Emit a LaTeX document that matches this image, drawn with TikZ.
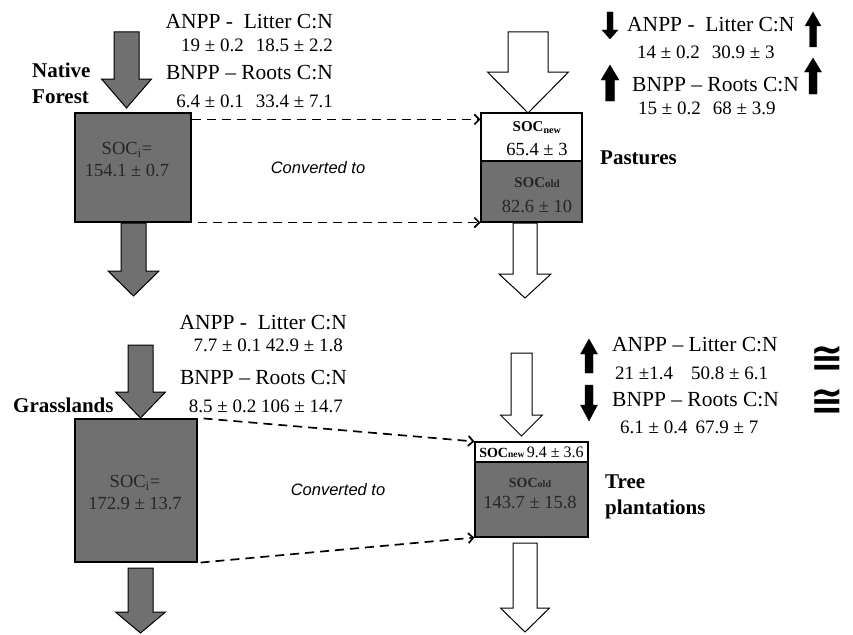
\documentclass[tikz,border=0pt]{standalone}
\usepackage{fontspec}
\setmainfont{Liberation Serif}
\setsansfont{Liberation Sans}
\newfontfamily\djv{DejaVu Sans}
\usetikzlibrary{arrows.meta,calc}
\definecolor{boxgray}{HTML}{707070}
\definecolor{txtgray}{HTML}{262626}
\newcommand{\barr}[7]{%
  \draw[#1] (#2-#4,#3) -- (#2+#4,#3) -- (#2+#4,#5) -- (#2+#6,#5) -- (#2,#7) -- (#2-#6,#5) -- (#2-#4,#5) -- cycle;}
\tikzset{
  gblock/.style={fill=boxgray,draw=black,line width=1pt,line join=miter},
  wblock/.style={fill=white,draw=black,line width=1pt,line join=miter},
  kblock/.style={fill=black,draw=black,line width=0.3pt},
  soilbox/.style={draw=black,line width=1.1pt,fill=boxgray,inner sep=0pt},
  newbox/.style={draw=black,line width=1.1pt,fill=white,inner sep=0pt},
  lbl/.style={font=\fontsize{21.5}{24}\selectfont,inner sep=0pt},
  num/.style={font=\fontsize{19}{22}\selectfont,inner sep=0pt},
  boxtxt/.style={font=\fontsize{18.5}{21}\selectfont,text=txtgray,inner sep=0pt},
  soclbl/.style={font=\fontsize{15}{18}\selectfont\bfseries,inner sep=0pt},
  site/.style={font=\fontsize{21}{26}\selectfont\bfseries,inner sep=0pt,align=left},
  conv/.style={font=\sffamily\itshape\fontsize{16.5}{19}\selectfont,inner sep=0pt},
  dashconn/.style={line width=1.7pt,dash pattern=on 9pt off 6pt,-{Straight Barb[length=5pt,width=10pt,line width=1.7pt]}},
  approx/.style={font=\djv\bfseries\fontsize{40}{40}\selectfont,inner sep=0pt}
}
\begin{document}
\begin{tikzpicture}[x=1pt,y=-1pt]
\useasboundingbox (0,0) rectangle (853,634);

% ---------- Native forest ----------
\node[soilbox,minimum width=116pt,minimum height=109pt] (nf) at (133,167.5) {};
\node[boxtxt] (nfs) at (127,150) {SOC\textsubscript{i}=};
\node[boxtxt] (nfv) at (127,170) {154.1 ± 0.7};
\barr{gblock}{126.5}{32}{12.5}{79}{25}{108}
\barr{gblock}{133.5}{223}{12.5}{271}{25.5}{296}
\node[site,anchor=west] (nfl) at (32,83) {Native\\Forest};
\node[lbl,anchor=east] (nfa) at (333,22) {ANPP -\enspace Litter C:N};
\node[num,anchor=east] (nfav) at (333,45) {19 ± 0.2\hspace{12pt}18.5 ± 2.2};
\node[lbl,anchor=east] (nfb) at (333,73) {BNPP – Roots C:N};
\node[num,anchor=east] (nfbv) at (333,101) {6.4 ± 0.1\hspace{12pt}33.4 ± 7.1};

% ---------- Pastures ----------
\node[newbox,minimum width=101pt,minimum height=48pt] (pnew) at (531.5,137) {};
\node[soilbox,minimum width=101pt,minimum height=61pt] (pold) at (531.5,191.5) {};
\node[soclbl] (pns) at (537,128) {SOC\textsubscript{\fontsize{10}{12}\selectfont new}};
\node[boxtxt,text=black] (pnv) at (537,150) {65.4 ± 3};
\node[soclbl,text=txtgray] (pos) at (537,183) {SOC{\fontsize{11}{12}\selectfont old}};
\node[boxtxt] (pov) at (537,206) {82.6 ± 10};
\barr{wblock}{528}{32}{20}{72}{40.5}{113}
\barr{wblock}{525}{223}{12}{274}{26}{298}
\node[site,anchor=west] (pl) at (600,158) {Pastures};
\barr{kblock}{610}{12}{3}{30}{8}{39}
\node[lbl,anchor=west] (pa) at (627,25) {ANPP -\enspace Litter C:N};
\barr{kblock}{813}{47}{3.5}{26}{8}{12}
\node[num,anchor=west] (pav) at (637,52) {14 ± 0.2\hspace{12pt}30.9 ± 3};
\barr{kblock}{610}{101}{4.5}{80}{9}{65}
\node[lbl,anchor=west] (pb) at (632,85) {BNPP – Roots C:N};
\barr{kblock}{813}{94}{4}{72}{8.5}{58}
\node[num,anchor=west] (pbv) at (638,108) {15 ± 0.2\hspace{12pt}68 ± 3.9};

\draw[dashconn] ($(nf.north east)+(0,7)$) -- ($(pnew.north west)+(0,7)$);
\draw[dashconn] ($(nf.south east)+(6,0)$) -- (pold.south west);
\node[conv] (c1) at (318,168) {Converted to};

% ---------- Grasslands ----------
\node[soilbox,minimum width=122pt,minimum height=143pt] (gl) at (136,490.5) {};
\node[boxtxt] (gls) at (135,483) {SOC\textsubscript{i}=};
\node[boxtxt] (glv) at (135,503) {172.9 ± 13.7};
\barr{gblock}{140.5}{345}{12.5}{392}{25}{418}
\barr{gblock}{140.5}{568}{12.5}{612}{25}{633}
\node[site,anchor=west] (gll) at (13,405) {Grasslands};
\node[lbl,anchor=east] (gla) at (347,323) {ANPP -\enspace Litter C:N};
\node[num,anchor=east] (glav) at (343,345) {7.7 ± 0.1 42.9 ± 1.8};
\node[lbl,anchor=east] (glb) at (347,378) {BNPP – Roots C:N};
\node[num,anchor=east] (glbv) at (343,406) {8.5 ± 0.2 106 ± 14.7};

% ---------- Tree plantations ----------
\node[newbox,minimum width=113pt,minimum height=20pt] (tnew) at (531.5,452) {};
\node[soilbox,minimum width=113pt,minimum height=75pt] (told) at (531.5,499.5) {};
\node[inner sep=0pt] (tns) at (531.5,452.5) {{\fontsize{14}{16}\selectfont\bfseries SOC{\fontsize{9.5}{11}\selectfont new}} {\fontsize{16}{18}\selectfont 9.4 ± 3.6}};
\node[soclbl,text=txtgray,font=\fontsize{14}{16}\selectfont\bfseries] (tos) at (530,483) {SOC{\fontsize{10}{12}\selectfont old}};
\node[boxtxt,font=\fontsize{18.5}{20}\selectfont] (tov) at (530,502) {143.7 ± 15.8};
\barr{wblock}{521.5}{353}{10.5}{415}{21}{436}
\barr{wblock}{525}{543}{12}{608}{24.5}{632}
\node[site,anchor=west] (tl) at (605,497) {Tree\\plantations};
\barr{kblock}{589}{373}{4}{354}{8.5}{339}
\barr{kblock}{589}{385}{4}{405}{8.5}{421}
\node[lbl,anchor=west] (ta) at (612,345) {ANPP – Litter C:N};
\node[num,anchor=west] (tav) at (615,373) {21 ±1.4\hspace{18pt}50.8 ± 6.1};
\node[lbl,anchor=west] (tb) at (612,400) {BNPP – Roots C:N};
\node[num,anchor=west] (tbv) at (620,427) {6.1 ± 0.4\hspace{8pt}67.9 ± 7};
\node[approx] (ap1) at (827.5,359) {≅};
\node[approx] (ap2) at (827.5,402) {≅};

\draw[dashconn] ($(gl.north east)+(6,0)$) -- (tnew.north west);
\draw[dashconn] ($(gl.south east)+(3,0)$) -- (told.south west);
\node[conv] (c2) at (338,490) {Converted to};
\end{tikzpicture}
\end{document}
